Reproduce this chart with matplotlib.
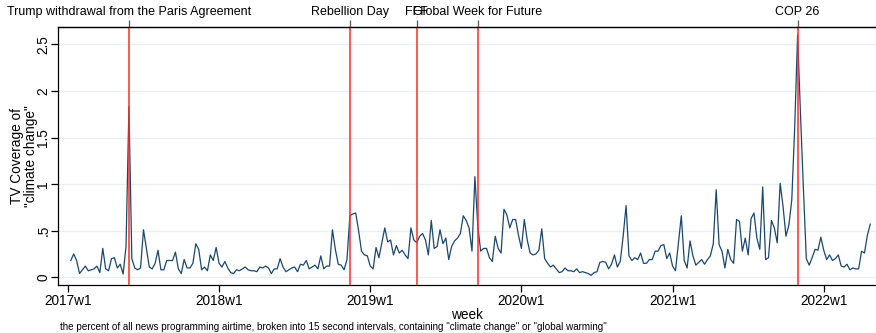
import numpy as np
import matplotlib
matplotlib.use("Agg")
import matplotlib.pyplot as plt
from matplotlib.ticker import FixedLocator, FixedFormatter

plt.rcParams["font.family"] = ["Liberation Sans", "DejaVu Sans"]

# share of news airtime mentioning climate change, one value per week
# 2017 starts at week 2
cov_2017 = [0.18, 0.25, 0.18, 0.04, 0.08, 0.12, 0.07, 0.08, 0.09, 0.12,
            0.05, 0.31, 0.09, 0.07, 0.20, 0.21, 0.10, 0.14, 0.035, 0.33,
            1.83, 0.20, 0.10, 0.08, 0.10, 0.51, 0.31, 0.11, 0.09, 0.15,
            0.29, 0.08, 0.08, 0.18, 0.18, 0.18, 0.27, 0.09, 0.04, 0.19,
            0.10, 0.10, 0.15, 0.36, 0.30, 0.08, 0.11, 0.07, 0.24, 0.18, 0.32]
cov_2018 = [0.15, 0.11, 0.17, 0.10, 0.05, 0.04, 0.08, 0.07, 0.09, 0.11,
            0.08, 0.07, 0.07, 0.06, 0.11, 0.10, 0.12, 0.10, 0.04, 0.09,
            0.09, 0.20, 0.11, 0.06, 0.08, 0.10, 0.11, 0.06, 0.14, 0.13,
            0.18, 0.09, 0.11, 0.13, 0.09, 0.23, 0.09, 0.12, 0.12, 0.51,
            0.30, 0.14, 0.13, 0.08, 0.19, 0.66, 0.68, 0.69, 0.50, 0.28,
            0.24, 0.23]
cov_2019 = [0.12, 0.09, 0.32, 0.21, 0.37, 0.53, 0.38, 0.40, 0.24, 0.34,
            0.26, 0.29, 0.24, 0.20, 0.53, 0.40, 0.37, 0.44, 0.47, 0.40,
            0.24, 0.61, 0.31, 0.33, 0.51, 0.36, 0.42, 0.19, 0.33, 0.39,
            0.42, 0.47, 0.66, 0.61, 0.53, 0.28, 1.08, 0.55, 0.28, 0.31,
            0.31, 0.21, 0.17, 0.44, 0.31, 0.26, 0.73, 0.67, 0.53, 0.62,
            0.62, 0.45]
cov_2020 = [0.31, 0.62, 0.40, 0.26, 0.24, 0.25, 0.29, 0.52, 0.20, 0.15,
            0.11, 0.13, 0.09, 0.05, 0.06, 0.10, 0.07, 0.07, 0.06, 0.09,
            0.05, 0.06, 0.05, 0.04, 0.02, 0.05, 0.06, 0.16, 0.17, 0.16,
            0.09, 0.14, 0.24, 0.11, 0.17, 0.44, 0.77, 0.23, 0.18, 0.21,
            0.19, 0.26, 0.15, 0.15, 0.19, 0.19, 0.28, 0.28, 0.34, 0.35,
            0.20, 0.26]
cov_2021 = [0.12, 0.07, 0.36, 0.66, 0.18, 0.10, 0.39, 0.23, 0.13, 0.16,
            0.19, 0.14, 0.19, 0.23, 0.36, 0.94, 0.35, 0.28, 0.10, 0.30,
            0.19, 0.15, 0.62, 0.60, 0.28, 0.42, 0.24, 0.63, 0.69, 0.42,
            0.30, 0.97, 0.19, 0.21, 0.61, 0.53, 0.37, 1.01, 0.76, 0.44,
            0.56, 0.83, 1.60, 2.60, 1.75, 0.95, 0.20, 0.13, 0.21, 0.30,
            0.29, 0.43]
cov_2022 = [0.29, 0.19, 0.24, 0.18, 0.20, 0.24, 0.12, 0.11, 0.14, 0.08,
            0.10, 0.09, 0.09, 0.28, 0.26, 0.45, 0.57]

years = [2017, 2018, 2019, 2020, 2021, 2022]
first_week = [2, 1, 1, 1, 1, 1]
series = [cov_2017, cov_2018, cov_2019, cov_2020, cov_2021, cov_2022]

# stata-style weekly index: (year - 2017) * 52 + (week - 1)
weeks, values = [], []
for yr, w0, vals in zip(years, first_week, series):
    for i, v in enumerate(vals):
        weeks.append((yr - 2017) * 52 + (w0 - 1) + i)
        values.append(v)
weeks = np.array(weeks)
values = np.array(values)

events = ["Trump withdrawal from the Paris Agreement", "Rebellion Day", "FFF",
          "Global Week for Future", "COP 26"]
event_year = [2017, 2018, 2019, 2019, 2021]
event_week = [22, 46, 17, 38, 44]
event_pos = [(y - 2017) * 52 + (w - 1) for y, w in zip(event_year, event_week)]

tick_pos = [(y - 2017) * 52 for y in years]
tick_lab = ["%dw1" % y for y in years]
ytick_pos = [0, 0.5, 1, 1.5, 2, 2.5]
ytick_lab = ["0", ".5", "1", "1.5", "2", "2.5"]

fig = plt.figure(figsize=(8.76, 3.33), dpi=100)
W, H = 876, 333
ax = fig.add_axes([58 / W, (H - 285) / H, (875.5 - 58) / W, (285 - 26.7) / H])

ax.plot(weeks, values, color="#1a476f", lw=0.9, zorder=3)
for p in event_pos:
    ax.axvline(p, color="#ff2a2a", lw=1.1, zorder=4)

ax.set_xlim(-3.4, 277.8)
ax.set_ylim(-0.083, 2.69)

ax.yaxis.set_major_locator(FixedLocator(ytick_pos))
ax.yaxis.set_major_formatter(FixedFormatter(ytick_lab))
ax.xaxis.set_major_locator(FixedLocator(tick_pos))
ax.xaxis.set_major_formatter(FixedFormatter(tick_lab))
ax.grid(axis="y", color="#e7eff1", lw=1.0, zorder=0)
ax.set_axisbelow(True)

ax.tick_params(axis="both", direction="out", length=5, width=0.9, color="black",
               labelsize=9.8)
ax.tick_params(axis="x", pad=1.5)
ax.tick_params(axis="y", pad=0.5)
for lab in ax.get_yticklabels():
    lab.set_rotation(90)
    lab.set_va("center")

ax.spines["right"].set_visible(False)
for s in ["left", "bottom", "top"]:
    ax.spines[s].set_linewidth(0.9)

ax.set_xlabel("week", fontsize=9.8, labelpad=0)
ax.set_ylabel('TV Coverage of\n"climate change"', fontsize=9.8, labelpad=-1,
              linespacing=1.0)

top = ax.twiny()
top.set_xlim(ax.get_xlim())
top.xaxis.set_major_locator(FixedLocator(event_pos))
top.xaxis.set_major_formatter(FixedFormatter(events))
top.tick_params(axis="x", direction="out", length=5, width=0.9, color="#555555",
                labelsize=9.0, pad=1.5)
for s in ["left", "right", "bottom"]:
    top.spines[s].set_visible(False)
top.spines["top"].set_linewidth(0.9)

fig.text(60 / W, 1 - 327 / H,
         'the percent of all news programming airtime, broken into 15 second intervals, '
         'containing "climate change" or "global warming"',
         fontsize=7.1, va="center", ha="left")

fig.savefig("out.png", dpi=100, facecolor="white")
